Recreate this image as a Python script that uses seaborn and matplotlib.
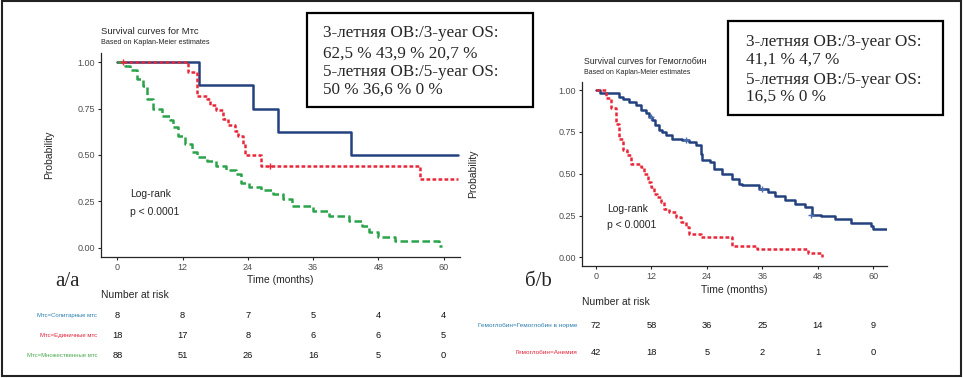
import seaborn as sns
import matplotlib.pyplot as plt
import matplotlib.patches as mpatches
from matplotlib.transforms import blended_transform_factory

sns.set_style("ticks")
plt.rcParams['font.family'] = ['Liberation Sans', 'DejaVu Sans']

# ---------- данные: панель а (Мтс) ----------
mts_groups = ["Мтс=Солитарные мтс", "Мтс=Единичные мтс", "Мтс=Множественные мтс"]

sol_t = [0, 15.0, 25.0, 29.5, 43.0, 62.7]
sol_s = [1.0, 0.875, 0.75, 0.625, 0.5, 0.5]

edin_t = [0, 13.0, 14.7, 16.4, 17.0, 18.2, 19.5, 20.4, 21.6, 22.2, 23.1, 23.4, 26.5, 55.7, 62.7]
edin_s = [1.0, 0.945, 0.82, 0.80, 0.77, 0.74, 0.695, 0.66, 0.63, 0.60, 0.56, 0.50, 0.443, 0.368, 0.368]

mnoz_t = [0, 1.5, 2.4, 3.6, 4.8, 5.4, 6.6, 8.2, 9.7, 10.3, 11.2, 12.4, 13.7, 14.6, 16.4,
          18.2, 20.0, 21.9, 22.8, 24.3, 26.5, 28.6, 30.4, 32.2, 35.9, 39.0, 42.6, 45.0,
          46.3, 48.0, 51.1, 59.1, 59.7]
mnoz_s = [1.0, 0.98, 0.96, 0.91, 0.87, 0.80, 0.75, 0.71, 0.69, 0.65, 0.605, 0.56, 0.515, 0.49, 0.47,
          0.44, 0.42, 0.40, 0.35, 0.33, 0.31, 0.29, 0.263, 0.227, 0.20, 0.173, 0.146, 0.119,
          0.083, 0.056, 0.038, 0.01, 0.01]

edin_cens_t = [1.0, 28.0]
edin_cens_s = [1.0, 0.443]

mts_risk = [[8, 8, 7, 5, 4, 4],
            [18, 17, 8, 6, 6, 5],
            [88, 51, 26, 16, 5, 0]]

# ---------- данные: панель б (Гемоглобин) ----------
hb_groups = ["Гемоглобин=Гемоглобин в норме", "Гемоглобин=Анемия"]

norm_t = [0, 1.0, 5.0, 5.8, 7.2, 8.6, 9.7, 10.8, 11.5, 12.2, 12.9, 13.7, 14.4, 15.1, 16.5,
          18.7, 20.1, 21.6, 22.7, 23.0, 24.8, 25.5, 27.3, 29.4, 30.9, 31.6, 35.2, 37.3,
          38.8, 40.9, 43.1, 45.2, 46.7, 48.8, 51.7, 55.3, 59.6, 60.0, 63.0]
norm_s = [1.0, 0.985, 0.96, 0.945, 0.93, 0.91, 0.88, 0.86, 0.84, 0.82, 0.79, 0.76, 0.75, 0.73, 0.71,
          0.70, 0.69, 0.67, 0.62, 0.58, 0.57, 0.53, 0.50, 0.47, 0.44, 0.43, 0.41, 0.39,
          0.365, 0.345, 0.316, 0.30, 0.256, 0.247, 0.227, 0.207, 0.187, 0.168, 0.168]

anem_t = [0, 2.2, 3.2, 4.3, 5.0, 5.8, 6.8, 7.6, 9.7, 10.4, 11.2, 11.9, 12.6, 13.3, 14.0,
          14.7, 15.8, 17.3, 18.4, 19.4, 20.1, 22.7, 29.5, 34.8, 46.0, 49.0, 49.0]
anem_s = [1.0, 0.95, 0.89, 0.80, 0.71, 0.64, 0.61, 0.56, 0.54, 0.50, 0.45, 0.42, 0.38, 0.36, 0.33,
          0.29, 0.27, 0.24, 0.21, 0.18, 0.14, 0.12, 0.07, 0.047, 0.024, 0.024, 0.0]

norm_cens_t = [12.0, 19.5, 36.0, 46.5]
norm_cens_s = [0.84, 0.70, 0.41, 0.256]

hb_risk = [[72, 58, 36, 25, 14, 9],
           [42, 18, 5, 2, 1, 0]]

risk_times = [0, 12, 24, 36, 48, 60]

BLUE = "#24417f"
RED = "#e8283a"
GREEN = "#2aa34a"
LBL_COLORS_A = ["#2a7fb0", "#e2233b", "#4aa84e"]
LBL_COLORS_B = ["#2a7fb0", "#e2233b"]

W, H = 963, 378


def fx(px):
    return px / W


def fy(py):
    return 1 - py / H


def km_axes(fig, box, curves, cens):
    ax = fig.add_axes(box)
    for t, s, col, ls in curves:
        sns.lineplot(x=t, y=s, ax=ax, color=col, linestyle=ls, linewidth=1.8,
                     drawstyle="steps-post", estimator=None, sort=False)
    for t, s, col in cens:
        sns.scatterplot(x=t, y=s, ax=ax, color=col, marker="+", s=25, linewidth=1.0, zorder=5)
    ax.set_xlim(-3, 63)
    ax.set_ylim(-0.05, 1.05)
    ax.set_xticks(risk_times)
    ax.set_yticks([0, 0.25, 0.5, 0.75, 1.0])
    ax.set_yticklabels(["0.00", "0.25", "0.50", "0.75", "1.00"])
    ax.tick_params(labelsize=6.5, labelcolor="#4d4d4d", length=2.5, width=0.8, pad=2)
    sns.despine(ax=ax)
    for sp in ["left", "bottom"]:
        ax.spines[sp].set_linewidth(0.9)
    ax.set_xlabel("Time (months)", fontsize=7.5)
    ax.set_ylabel("Probability", fontsize=7.5)
    ax.text(2.4, 0.29, "Log-rank", fontsize=7.5, va="center")
    ax.text(2.4, 0.195, "p < 0.0001", fontsize=7.5, va="center")
    return ax


def risk_table(fig, ax, groups, risk, colors, label_x, rows_y, header_y, lbl_size):
    tr = blended_transform_factory(ax.transData, fig.transFigure)
    fig.text(ax.get_position().x0, fy(header_y), "Number at risk", fontsize=7.5, va="center")
    for g, vals, col, ry in zip(groups, risk, colors, rows_y):
        fig.text(fx(label_x), fy(ry), g, fontsize=lbl_size, color=col, ha="right", va="center")
        for t, v in zip(risk_times, vals):
            ax.text(t, fy(ry), str(v), transform=tr, fontsize=6.7, ha="center", va="center",
                    color="#111111")


def os_box(fig, x0, y0, x1, y1, lines, tx, ty):
    fig.patches.append(mpatches.Rectangle((fx(x0), fy(y1)), fx(x1 - x0), (y1 - y0) / H,
                                          transform=fig.transFigure, fill=False,
                                          edgecolor="black", linewidth=1.6))
    for line, yy in zip(lines, ty):
        fig.text(fx(tx), fy(yy), line, fontsize=12.3, va="center",
                 family=["Liberation Serif", "DejaVu Serif"])


fig = plt.figure(figsize=(9.63, 3.78), dpi=100)

# панель а
ax_a = km_axes(fig, [fx(101), fy(257), fx(460 - 101), (257 - 53) / H],
               [(sol_t, sol_s, BLUE, "-"),
                (edin_t, edin_s, RED, (0, (1.5, 0.9))),
                (mnoz_t, mnoz_s, GREEN, (0, (3.0, 1.4)))],
               [(edin_cens_t, edin_cens_s, RED)])
ax_a.xaxis.set_label_coords(0.5, -0.088)
ax_a.yaxis.set_label_coords(-0.13, 0.5)
fig.text(fx(101), fy(31), "Survival curves for Мтс", fontsize=6.8, va="center")
fig.text(fx(101), fy(43), "Based on Kaplan-Meier estimates", fontsize=5.2, va="center")
risk_table(fig, ax_a, mts_groups, mts_risk, LBL_COLORS_A, 97, [315.7, 335.7, 355.7], 295, 4.3)

# панель б
ax_b = km_axes(fig, [fx(582), fy(265.7), fx(887 - 582), (265.7 - 81.7) / H],
               [(norm_t, norm_s, BLUE, "-"),
                (anem_t, anem_s, RED, (0, (1.5, 0.9)))],
               [(norm_cens_t, norm_cens_s, "#4a6fb0")])
ax_b.xaxis.set_label_coords(0.5, -0.105)
ax_b.yaxis.set_label_coords(-0.34, 0.5)
fig.text(fx(584), fy(62), "Survival curves for Гемоглобин", fontsize=6.3, va="center")
fig.text(fx(584), fy(73), "Based on Kaplan-Meier estimates", fontsize=5.0, va="center")
risk_table(fig, ax_b, hb_groups, hb_risk, LBL_COLORS_B, 577, [325.7, 352.3], 302, 4.6)

# рамки с ОВ
os_box(fig, 307, 13, 533, 107,
       ["3-летняя ОВ:/3-year OS:", "62,5 % 43,9 % 20,7 %",
        "5-летняя ОВ:/5-year OS:", "50 % 36,6 % 0 %"],
       323, [33.3, 53.3, 71.7, 90])
os_box(fig, 728, 21, 943, 115,
       ["3-летняя ОВ:/3-year OS:", "41,1 % 4,7 %",
        "5-летняя ОВ:/5-year OS:", "16,5 % 0 %"],
       746, [41.7, 60, 80, 96.7])

fig.text(fx(55), fy(282), "а/a", fontsize=15, va="center",
         family=["Liberation Serif", "DejaVu Serif"])
fig.text(fx(525), fy(282), "б/b", fontsize=15, va="center",
         family=["Liberation Serif", "DejaVu Serif"])

# внешняя рамка
fig.patches.append(mpatches.Rectangle((0.002, 0.004), 0.996, 0.993, transform=fig.transFigure,
                                      fill=False, edgecolor="#222222", linewidth=1.5))

fig.savefig("out.png", dpi=100)
